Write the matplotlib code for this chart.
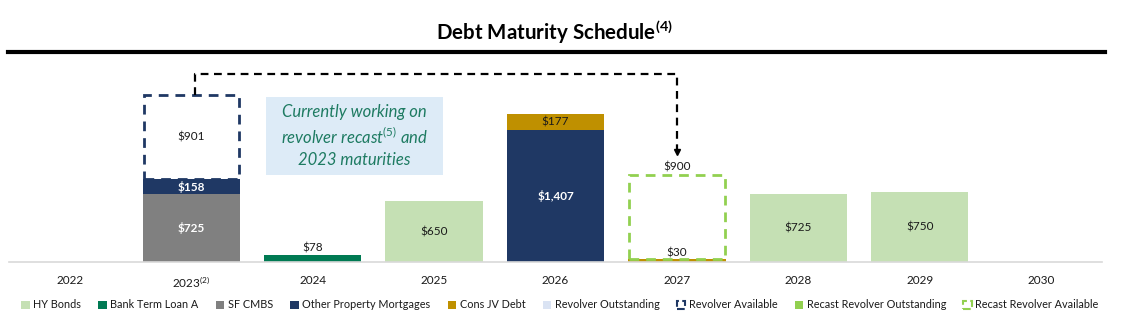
import matplotlib.pyplot as plt
from matplotlib.patches import Rectangle
from matplotlib.lines import Line2D
import numpy as np

plt.rcParams['font.family'] = ['Lato', 'DejaVu Sans']
plt.rcParams['mathtext.fontset'] = 'custom'
plt.rcParams['mathtext.rm'] = 'Lato'
plt.rcParams['mathtext.it'] = 'Lato:italic'
plt.rcParams['mathtext.bf'] = 'Lato:bold'

# data ($ millions)
years = ['2022', '2023$^{(2)}$', '2024', '2025', '2026', '2027', '2028', '2029', '2030']
hy_bonds = [0, 0, 0, 650, 0, 0, 725, 750, 0]
bank_term_loan = [0, 0, 78, 0, 0, 0, 0, 0, 0]
sf_cmbs = [0, 725, 0, 0, 0, 0, 0, 0, 0]
other_mortgages = [0, 158, 0, 0, 1407, 0, 0, 0, 0]
cons_jv = [0, 0, 0, 0, 177, 30, 0, 0, 0]
revolver_outstanding = [0, 0, 0, 0, 0, 0, 0, 0, 0]
revolver_available = [0, 901, 0, 0, 0, 0, 0, 0, 0]
recast_outstanding = [0, 0, 0, 0, 0, 0, 0, 0, 0]
recast_available = [0, 0, 0, 0, 0, 900, 0, 0, 0]

C_HY = '#C5E0B4'
C_BANK = '#007A53'
C_CMBS = '#808080'
C_OPM = '#1F3864'
C_JV = '#BF9000'
C_REV = '#DAE3F3'
C_RECAST = '#92D050'
C_NOTE = '#1E7B62'

fig = plt.figure(figsize=(11.23, 3.28), dpi=100)
ax = fig.add_axes([9 / 1123, 66 / 328, 1093 / 1123, 202 / 328])

x = np.arange(len(years))
w = 0.8
bottom = np.zeros(len(years))

solid = [
    (sf_cmbs, C_CMBS, 'SF CMBS'),
    (bank_term_loan, C_BANK, 'Bank Term Loan A'),
    (hy_bonds, C_HY, 'HY Bonds'),
    (other_mortgages, C_OPM, 'Other Property Mortgages'),
    (cons_jv, C_JV, 'Cons JV Debt'),
    (revolver_outstanding, C_REV, 'Revolver Outstanding'),
    (recast_outstanding, C_RECAST, 'Recast Revolver Outstanding'),
]
seg = {}
for vals, col, name in solid:
    vals = np.array(vals, dtype=float)
    ax.bar(x, vals, w, bottom=bottom, color=col, edgecolor='none', zorder=2)
    seg[name] = (vals, bottom.copy())
    bottom += vals

# dashed "available" boxes
rv = np.array(revolver_available, dtype=float)
for i in np.nonzero(rv)[0]:
    ax.bar(x[i], rv[i], w * 0.98, bottom=bottom[i], fill=False, edgecolor=C_OPM,
           linewidth=2, linestyle=(0, (3.5, 2.5)), zorder=3)
    ax.text(x[i], bottom[i] + rv[i] / 2, f'${rv[i]:,.0f}', ha='center', va='center',
            fontsize=8.5, color='#1a1a1a', zorder=4)
rv_top = bottom + rv
ra = np.array(recast_available, dtype=float)
for i in np.nonzero(ra)[0]:
    ax.bar(x[i], ra[i], w * 0.98, bottom=bottom[i], fill=False, edgecolor=C_RECAST,
           linewidth=2, linestyle=(0, (3.5, 2.5)), zorder=3)
    ax.text(x[i], bottom[i] + ra[i] + 90, f'${ra[i]:,.0f}', ha='center', va='center',
            fontsize=8.5, color='#1a1a1a', zorder=4)

# value labels on solid segments
for name, (vals, bot) in seg.items():
    for i, v in enumerate(vals):
        if v <= 0:
            continue
        dark = name in ('SF CMBS', 'Other Property Mortgages')
        col = 'white' if dark else '#1a1a1a'
        weight = 'bold' if dark else 'normal'
        if v < 100:
            ax.text(x[i], bot[i] + v + 10, f'${v:,.0f}', ha='center', va='bottom',
                    fontsize=8.5, color=col, zorder=4)
        else:
            ax.text(x[i], bot[i] + v / 2, f'${v:,.0f}', ha='center', va='center',
                    fontsize=8.5, color=col, fontweight=weight, zorder=4)

# connector from 2023 revolver box to 2027 recast box
y_link = 2010
x0, x1 = 1.03, 5.0
ax.plot([x0, x0, x1, x1], [rv_top[1], y_link, y_link, 1210], color='black',
        linewidth=1.6, linestyle=(0, (3.5, 2.5)), zorder=3)
ax.plot([x1], [1180], marker='v', color='black', markersize=5, zorder=3)

# note box
ax.add_patch(Rectangle((1.62, 931), 1.45, 835, facecolor='#DDEBF7', edgecolor='none', zorder=1))
ax.text(2.345, 1348, 'Currently working on\nrevolver recast$^{(5)}$ and\n2023 maturities',
        ha='center', va='center', fontsize=12, style='italic', color=C_NOTE,
        linespacing=1.4, zorder=4)

ax.set_xlim(-0.5, len(years) - 0.5)
ax.set_ylim(0, 2160)
ax.set_xticks(x)
ax.set_xticklabels(years, fontsize=8.5, color='#1a1a1a')
ax.tick_params(axis='x', length=0, pad=9)
ax.set_yticks([])
for s in ['top', 'right', 'left']:
    ax.spines[s].set_visible(False)
ax.spines['bottom'].set_color('#D9D9D9')
ax.spines['bottom'].set_linewidth(1.2)

# title and rule
fig.text(0.494, 0.902, 'Debt Maturity Schedule$^{\\mathbf{(4)}}$', ha='center', va='center',
         fontsize=14.8, fontweight='bold', color='black')
fig.add_artist(Line2D([8 / 1123, 1105 / 1123], [1 - 52 / 328, 1 - 52 / 328],
                      color='black', linewidth=3, transform=fig.transFigure))

# legend
def box(fc, ec='none', ls='-'):
    return Rectangle((0, 0), 1, 1, facecolor=fc, edgecolor=ec, linestyle=ls, linewidth=1.5)

handles = [
    box(C_HY), box(C_BANK), box(C_CMBS), box(C_OPM), box(C_JV), box(C_REV),
    box('white', C_OPM, '--'), box(C_RECAST), box('white', C_RECAST, '--'),
]
labels = ['HY Bonds', 'Bank Term Loan A', 'SF CMBS', 'Other Property Mortgages', 'Cons JV Debt',
          'Revolver Outstanding', 'Revolver Available', 'Recast Revolver Outstanding',
          'Recast Revolver Available']
fig.legend(handles, labels, loc='center', bbox_to_anchor=(0.4985, 1 - 305 / 328), ncol=9,
           frameon=False, fontsize=7.8, handlelength=0.8, handleheight=0.8, handletextpad=0.3,
           columnspacing=1.6, labelcolor='#1a1a1a')

fig.savefig('out.png', dpi=100)
